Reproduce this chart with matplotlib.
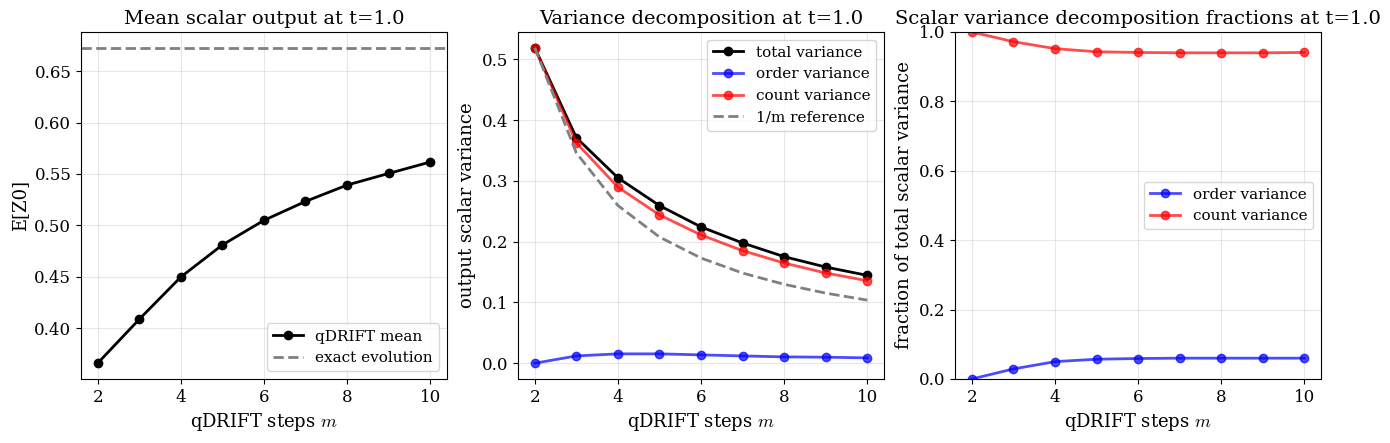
import matplotlib
matplotlib.use("Agg")
import matplotlib.pyplot as plt

plt.rcParams['font.family'] = 'DejaVu Serif'
plt.rcParams['mathtext.fontset'] = 'cm'

m_steps = [2, 3, 4, 5, 6, 7, 8, 9, 10]
mean_vals = [0.366, 0.4087, 0.4498, 0.481, 0.5049, 0.5233, 0.5392, 0.5505, 0.5616]
exact_val = 0.6727

total_var = [0.519, 0.371, 0.305, 0.2593, 0.2242, 0.1978, 0.1753, 0.1582, 0.1445]
order_var = [0.0, 0.012, 0.0154, 0.0154, 0.0137, 0.012, 0.0104, 0.0099, 0.0088]
count_var = [0.519, 0.3626, 0.2896, 0.244, 0.211, 0.1852, 0.1648, 0.1484, 0.1357]
ref_var = [0.519, 0.346, 0.2595, 0.2076, 0.173, 0.1483, 0.1298, 0.1153, 0.1038]

order_frac = [0.0, 0.029, 0.05, 0.057, 0.059, 0.06, 0.06, 0.06, 0.06]
count_frac = [1.0, 0.972, 0.952, 0.943, 0.941, 0.940, 0.940, 0.940, 0.941]

fig, axes = plt.subplots(1, 3, figsize=(13.9, 4.43), dpi=100)
fig.subplots_adjust(left=0.0583, right=0.9504, bottom=0.1445, top=0.9278, wspace=0.195)
ax1, ax2, ax3 = axes

ax1.plot(m_steps, mean_vals, 'o-', color='black', lw=2, label='qDRIFT mean')
ax1.axhline(exact_val, color='gray', ls='--', lw=2, label='exact evolution')
ax1.set_xlabel('qDRIFT steps $m$', fontsize=13)
ax1.set_ylabel('E[Z0]', fontsize=13)
ax1.set_title('Mean scalar output at t=1.0', fontsize=14)
ax1.legend(loc='lower right', fontsize=11)
ax1.grid(alpha=0.3)

ax2.plot(m_steps, total_var, 'o-', color='black', lw=2, label='total variance')
ax2.plot(m_steps, order_var, 'o-', color='blue', lw=2, alpha=0.7, label='order variance')
ax2.plot(m_steps, count_var, 'o-', color='red', lw=2, alpha=0.7, label='count variance')
ax2.plot(m_steps, ref_var, '--', color='gray', lw=2, label='1/m reference')
ax2.set_xlabel('qDRIFT steps $m$', fontsize=13)
ax2.set_ylabel('output scalar variance', fontsize=13)
ax2.set_title('Variance decomposition at t=1.0', fontsize=14)
ax2.legend(loc='upper right', fontsize=11)
ax2.grid(alpha=0.3)

ax3.plot(m_steps, order_frac, 'o-', color='blue', lw=2, alpha=0.7, label='order variance')
ax3.plot(m_steps, count_frac, 'o-', color='red', lw=2, alpha=0.7, label='count variance')
ax3.set_ylim(0, 1)
ax3.set_xlabel('qDRIFT steps $m$', fontsize=13)
ax3.set_ylabel('fraction of total scalar variance', fontsize=13)
ax3.set_title('Scalar variance decomposition fractions at t=1.0', fontsize=14)
ax3.legend(loc='center right', fontsize=11)
ax3.grid(alpha=0.3)

for ax in axes:
    ax.tick_params(labelsize=12)

fig.savefig('out.png', dpi=100)
